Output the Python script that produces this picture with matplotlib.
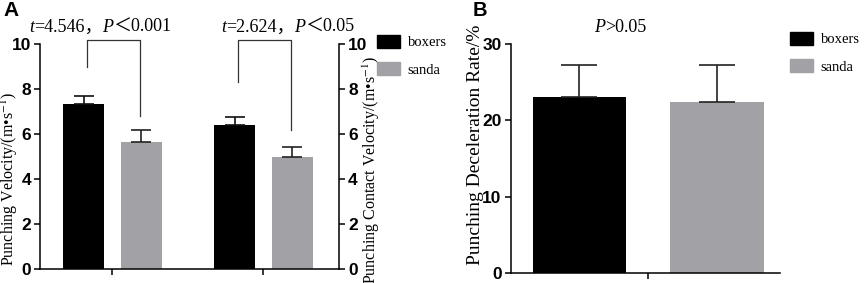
import numpy as np
import matplotlib
matplotlib.use("Agg")
from matplotlib import pyplot as plt
from matplotlib.patches import Patch
from matplotlib.offsetbox import TextArea, HPacker, AnnotationBbox

plt.rcParams['mathtext.fontset'] = 'stix'

# panel A: two measures, boxers vs sanda (mean, sd)
measures_A = ['Punching Velocity', 'Punching Contact Velocity']
boxers_A = [7.33, 6.41]
boxers_sd_A = [0.37, 0.36]
sanda_A = [5.66, 4.99]
sanda_sd_A = [0.54, 0.45]
stats_A = [[('t', True), ('=4.546，', False), ('P', True), ('＜0.001', False)],
           [('t', True), ('=2.624，', False), ('P', True), ('＜0.05', False)]]

# panel B: deceleration rate
boxers_B = 23.1
boxers_sd_B = 4.2
sanda_B = 22.45
sanda_sd_B = 4.75
stats_B = [('P', True), ('>0.05', False)]

groups = ['boxers', 'sanda']
colors = ['#000000', '#a2a2a6']

SERIF = ['Liberation Serif', 'Noto Sans CJK SC']
TICKFONT = dict(family=['Liberation Sans Narrow', 'Liberation Sans'], weight='bold', size=12.5)


def stat_label(ax, x, y, parts, size=13):
    boxes = [TextArea(s, textprops=dict(family=SERIF, size=size,
                                        style='italic' if it else 'normal'))
             for s, it in parts]
    pack = HPacker(children=boxes, pad=0, sep=0, align='baseline')
    ab = AnnotationBbox(pack, (x, y), xycoords='data', frameon=False,
                        box_alignment=(0.5, 0.5), pad=0, annotation_clip=False)
    ax.add_artist(ab)


def style_axis(ax):
    ax.spines['top'].set_visible(False)
    for s in ax.spines.values():
        s.set_linewidth(1.1)
    ax.tick_params(width=1.1, length=4.5, pad=2)
    for lab in ax.get_yticklabels():
        lab.set_fontproperties(TICKFONT)


def legend(ax, x, y):
    handles = [Patch(facecolor=c, edgecolor=c, label=g) for g, c in zip(groups, colors)]
    ax.legend(handles=handles, loc='upper left', bbox_to_anchor=(x, y),
              bbox_transform=ax.figure.transFigure, frameon=False, borderpad=0,
              borderaxespad=0, handlelength=1.6, handleheight=0.95,
              handletextpad=0.5, labelspacing=0.9,
              prop=dict(family=SERIF, size=10.5))


fig = plt.figure(figsize=(8.65, 2.83), dpi=100)

# ---- panel A
axA = fig.add_axes([40/865, 1-269/283, 299/865, 225/283])
x = np.arange(len(measures_A))
off, w = 0.19, 0.27
axA.bar(x - off, boxers_A, w, color=colors[0])
axA.bar(x + off, sanda_A, w, color=colors[1])
axA.errorbar(x - off, boxers_A, yerr=[np.zeros(2), boxers_sd_A], fmt='none',
             ecolor='#111111', elinewidth=1.2, capsize=7, capthick=1.2)
axA.errorbar(x + off, sanda_A, yerr=[np.zeros(2), sanda_sd_A], fmt='none',
             ecolor='#222222', elinewidth=1.2, capsize=7, capthick=1.2)
axA.set_xlim(-0.48, 1.5)
axA.set_ylim(0, 10)
axA.set_yticks(np.arange(0, 11, 2))
axA.set_xticks(x)
axA.set_xticklabels([])
axA.spines['right'].set_visible(False)
style_axis(axA)
axA.set_ylabel(r'Punching Velocity/(m•s$^{-1}$)', family=SERIF[0], size=11.5)
axA.yaxis.set_label_coords(-0.066, 0.40)

axA2 = axA.twinx()
axA2.set_ylim(0, 10)
axA2.set_yticks(np.arange(0, 11, 2))
for s in ['left', 'bottom', 'top']:
    axA2.spines[s].set_visible(False)
style_axis(axA2)
axA2.set_ylabel(r'Punching Contact Velocity/(m•s$^{-1}$)', family=SERIF[0], size=11.5)
axA2.yaxis.set_label_coords(1.072, 0.44)

# significance brackets
legs = [(8.96, 6.8), (8.3, 6.2)]
label_x = [-0.08, 0.16]
for i, (l, r) in enumerate(legs):
    xl, xr = x[i] - 0.166, x[i] + 0.185
    axA.plot([xl, xl, xr, xr], [l, 10.2, 10.2, r], color='#333333', lw=0.9,
             clip_on=False)
    stat_label(axA, x[i] + label_x[i], 10.75, stats_A[i])

legend(axA, 377/865, 1-35/283)

# ---- panel B
axB = fig.add_axes([510.7/865, 1-273/283, 269.3/865, 229/283])
xb = np.array([-0.5, 0.5])
axB.bar(xb[0], boxers_B, 0.68, color=colors[0])
axB.bar(xb[1], sanda_B, 0.68, color=colors[1])
axB.errorbar(xb, [boxers_B, sanda_B], yerr=[[0, 0], [boxers_sd_B, sanda_sd_B]],
             fmt='none', ecolor='#222222', elinewidth=1.2, capsize=13, capthick=1.2)
axB.set_xlim(-1.0, 0.96)
axB.set_ylim(0, 30)
axB.set_yticks([0, 10, 20, 30])
axB.set_xticks([0])
axB.set_xticklabels([])
axB.spines['right'].set_visible(False)
style_axis(axB)
axB.set_ylabel('Punching Deceleration Rate/%', family=SERIF[0], size=14)
axB.yaxis.set_label_coords(-0.1, 0.56)
stat_label(axB, -0.2, 32.2, stats_B)
legend(axB, 790/865, 1-32/283)

fig.text(0.004, 1-1/283, 'A', family='Liberation Sans', weight='bold', size=15, va='top')
fig.text(473/865, 1-0.5/283, 'B', family='Liberation Sans', weight='bold', size=14.5, va='top')

fig.savefig('out.png', dpi=100)
